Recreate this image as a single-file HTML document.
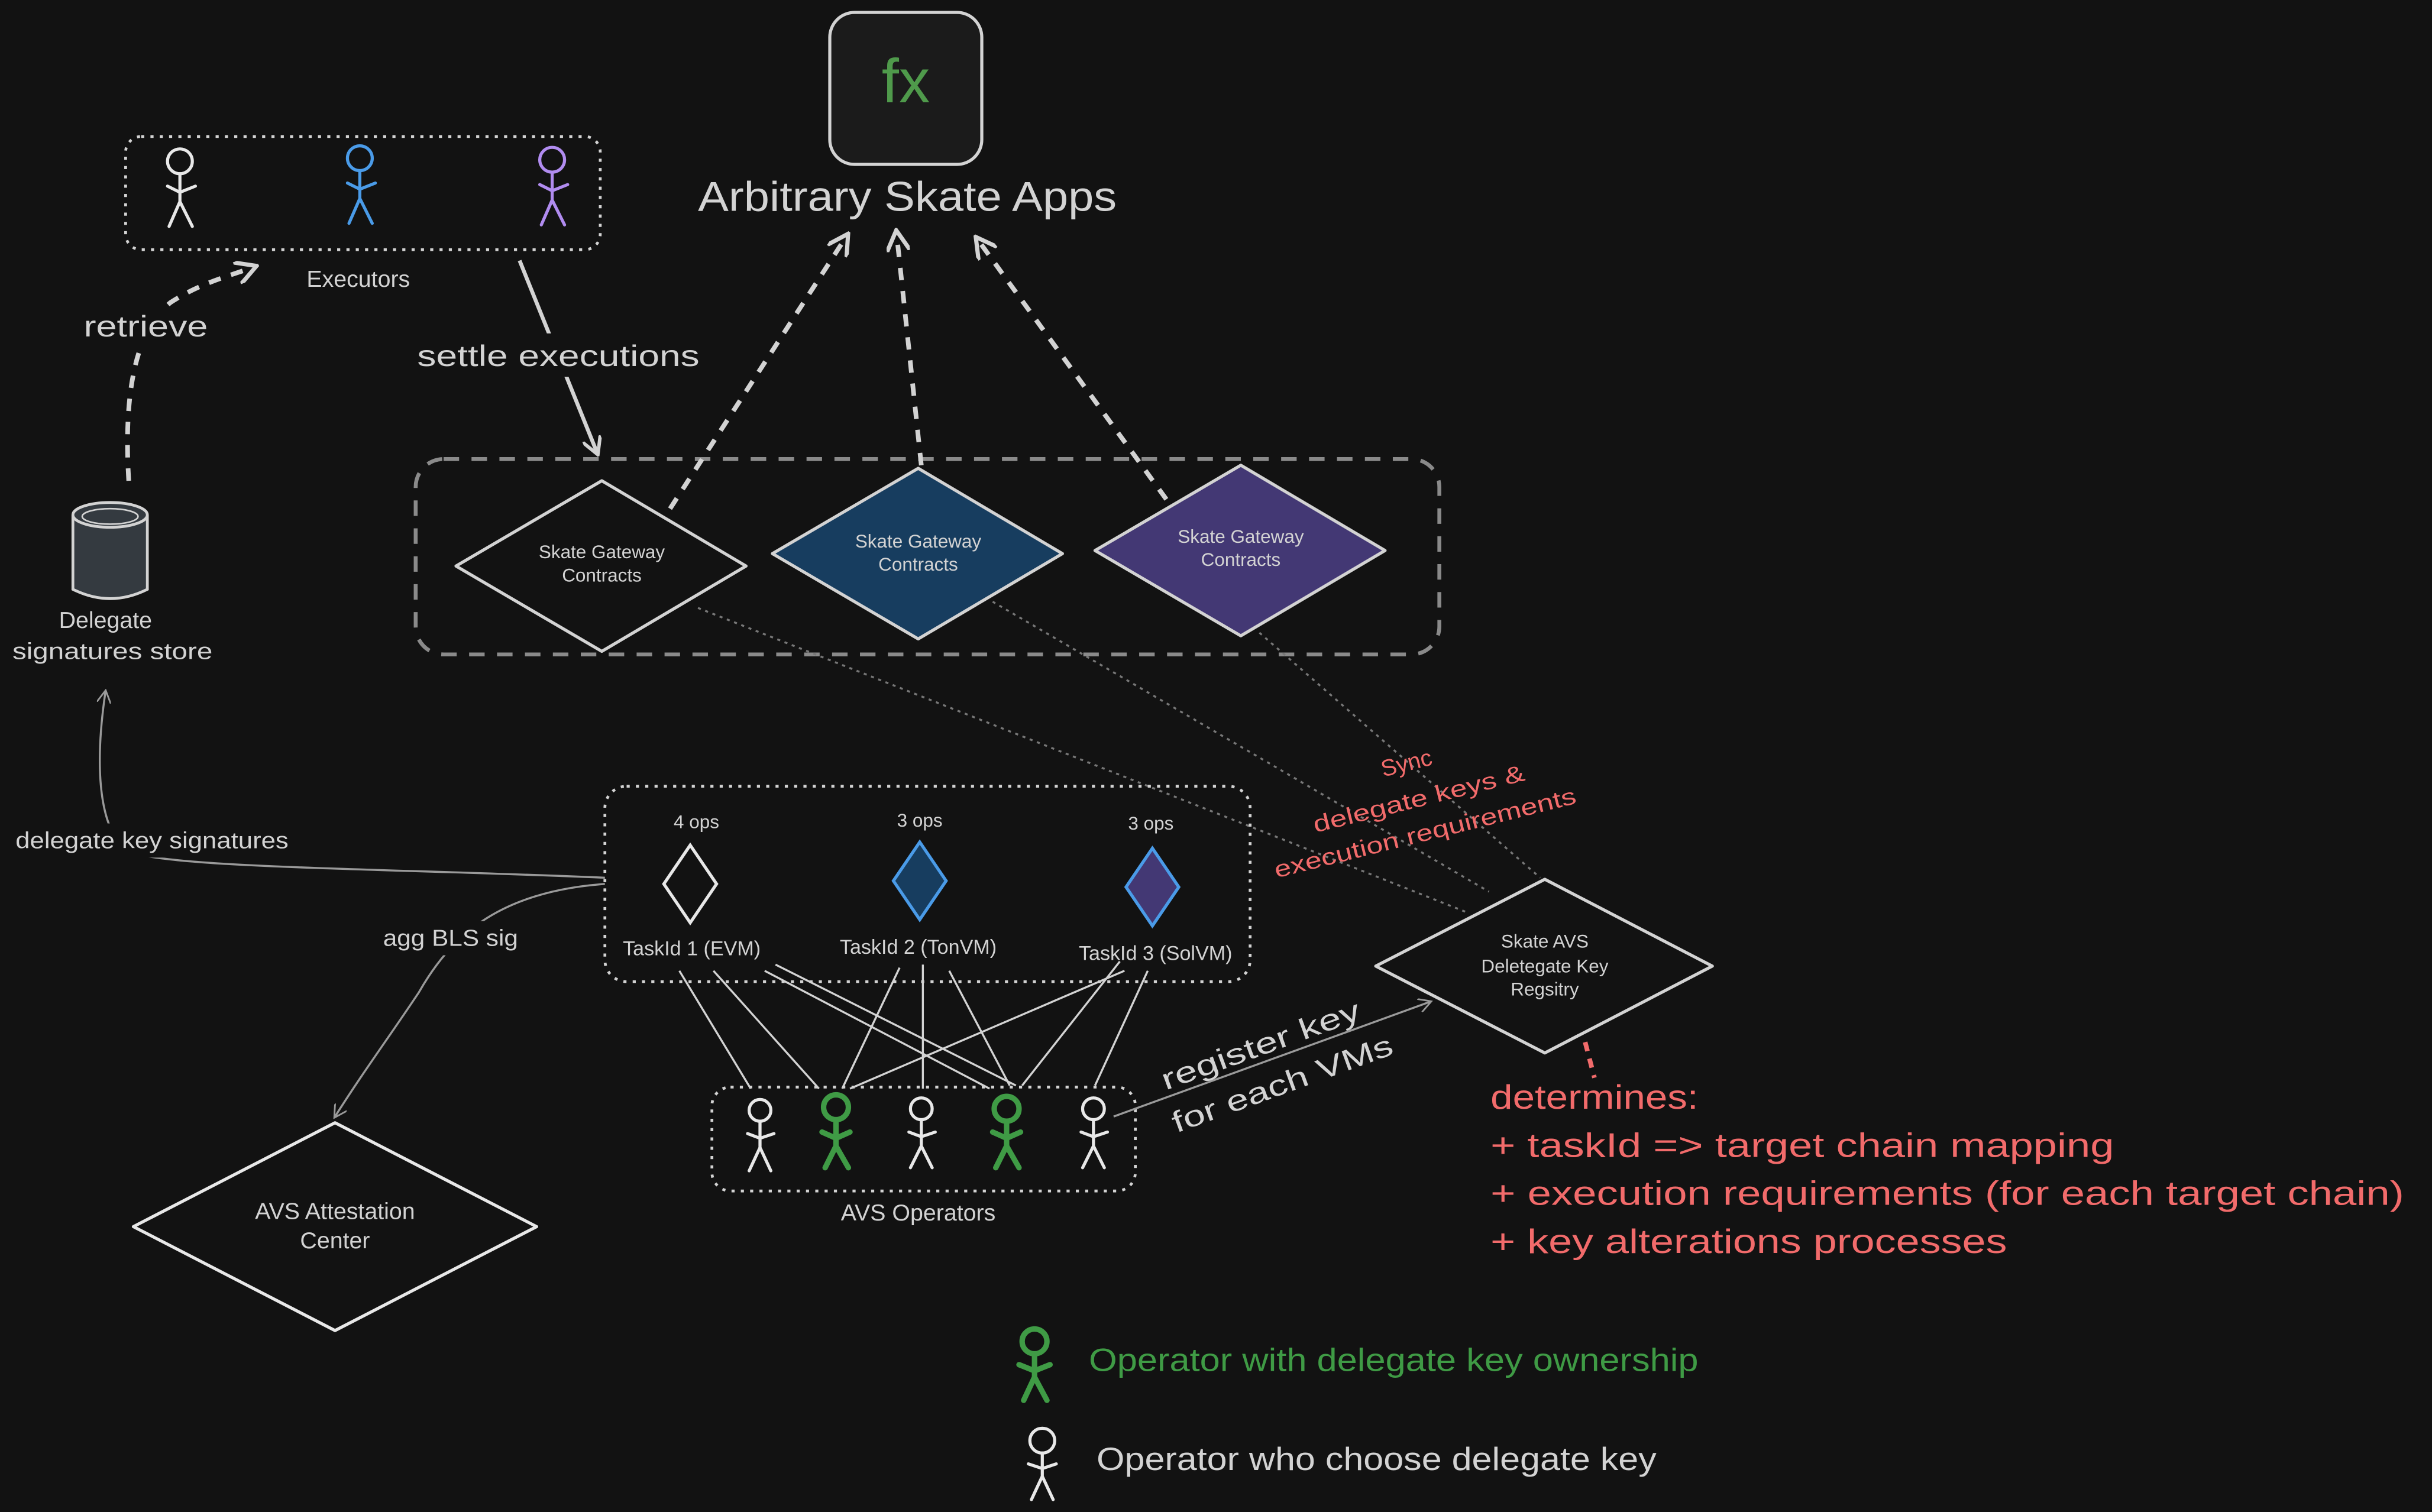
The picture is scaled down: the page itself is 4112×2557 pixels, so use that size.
<!DOCTYPE html>
<html><head><meta charset="utf-8"><style>
html,body{margin:0;padding:0;background:#121212;}
svg{display:block;}
text{font-family:"Liberation Sans",sans-serif;}
</style></head><body>
<svg width="4112" height="2557" viewBox="0 0 1568 975" xmlns="http://www.w3.org/2000/svg">
<defs>
<marker id="ah" viewBox="0 0 10 10" refX="8" refY="5" markerWidth="5" markerHeight="5" orient="auto"><path d="M0,0 L9,5 L0,10" fill="none" stroke="#d3d3d3" stroke-width="1.8"/></marker>
<marker id="ag" viewBox="0 0 10 10" refX="8" refY="5" markerWidth="7" markerHeight="7" orient="auto"><path d="M0,0 L9,5 L0,10" fill="none" stroke="#9a9a9a" stroke-width="1.2"/></marker>
</defs>
<rect width="1568" height="975" fill="#121212"/>

<!-- fx box -->
<rect x="535" y="8" width="98" height="98" rx="16" fill="#1b1b1b" stroke="#d3d3d3" stroke-width="2"/>
<text x="584" y="66" text-anchor="middle" font-size="40" fill="#4f9a4b">fx</text>
<text x="450" y="136" font-size="27" fill="#d3d3d3" textLength="270" lengthAdjust="spacingAndGlyphs">Arbitrary Skate Apps</text>

<!-- executors -->
<rect x="81" y="88" width="306" height="73" rx="10" fill="none" stroke="#d3d3d3" stroke-width="1.8" stroke-dasharray="2,4"/>
<g stroke-width="2" fill="none" stroke-linecap="round">
 <g stroke="#e8e8e8"><circle cx="116" cy="104" r="8"/><path d="M116 112 V130 M108 120 L116 124 L126 120 M116 130 L109 146 M116 130 L124 146"/></g>
 <g stroke="#4a9be8"><circle cx="232" cy="102" r="8"/><path d="M232 110 V128 M224 118 L232 122 L242 118 M232 128 L225 144 M232 128 L240 144"/></g>
 <g stroke="#b18cf0"><circle cx="356" cy="103" r="8"/><path d="M356 111 V129 M348 119 L356 123 L366 119 M356 129 L349 145 M356 129 L364 145"/></g>
</g>
<text x="231" y="185" text-anchor="middle" font-size="15" fill="#d3d3d3">Executors</text>

<!-- retrieve -->
<path d="M83 310 C80 260 85 215 110 195 C130 182 148 178 164 172" fill="none" stroke="#d3d3d3" stroke-width="3" stroke-dasharray="8,7" marker-end="url(#ah)"/>
<rect x="50" y="198" width="88" height="26" fill="#121212"/>
<text x="54" y="217" font-size="19" fill="#d3d3d3" textLength="80" lengthAdjust="spacingAndGlyphs">retrieve</text>

<!-- settle -->
<path d="M335 168 L385 292" fill="none" stroke="#d3d3d3" stroke-width="2.5" marker-end="url(#ah)"/>
<rect x="265" y="215" width="190" height="28" fill="#121212"/>
<text x="269" y="236" font-size="19" fill="#d3d3d3" textLength="182" lengthAdjust="spacingAndGlyphs">settle executions</text>

<!-- store cylinder -->
<path d="M47 332 V380 Q71 392 95 380 V332" fill="#343a40" stroke="#d3d3d3" stroke-width="1.8"/>
<ellipse cx="71" cy="332" rx="24" ry="8" fill="#343a40" stroke="#d3d3d3" stroke-width="1.8"/>
<ellipse cx="71" cy="333" rx="18" ry="5" fill="none" stroke="#d3d3d3" stroke-width="1"/>
<text x="68" y="405" text-anchor="middle" font-size="15" fill="#d3d3d3">Delegate</text>
<text x="8" y="425" font-size="15" fill="#d3d3d3" textLength="129" lengthAdjust="spacingAndGlyphs">signatures store</text>

<!-- gateway group -->
<rect x="268" y="296" width="660" height="126" rx="18" fill="none" stroke="#8a8a8a" stroke-width="2.5" stroke-dasharray="10,8"/>
<path d="M388 310 L481 365 L388 420 L294 365 Z" fill="#121212" stroke="#d3d3d3" stroke-width="2" stroke-linejoin="round"/>
<text x="388" y="360" text-anchor="middle" font-size="12" fill="#d3d3d3">Skate Gateway</text>
<text x="388" y="375" text-anchor="middle" font-size="12" fill="#d3d3d3">Contracts</text>
<path d="M592 302 L685 357 L592 412 L498 357 Z" fill="#173d5f" stroke="#d3d3d3" stroke-width="2" stroke-linejoin="round"/>
<text x="592" y="353" text-anchor="middle" font-size="12" fill="#d3d3d3">Skate Gateway</text>
<text x="592" y="368" text-anchor="middle" font-size="12" fill="#d3d3d3">Contracts</text>
<path d="M800 300 L893 355 L800 410 L706 355 Z" fill="#433874" stroke="#d3d3d3" stroke-width="2" stroke-linejoin="round"/>
<text x="800" y="350" text-anchor="middle" font-size="12" fill="#d3d3d3">Skate Gateway</text>
<text x="800" y="365" text-anchor="middle" font-size="12" fill="#d3d3d3">Contracts</text>

<!-- arrows to apps -->
<g fill="none" stroke="#d3d3d3" stroke-width="3" stroke-dasharray="8,7" marker-end="url(#ah)">
<path d="M432 328 L546 152"/>
<path d="M594 300 L578 150"/>
<path d="M752 322 L630 154"/>
</g>

<!-- sync dotted lines -->
<g fill="none" stroke="#777" stroke-width="1.3" stroke-dasharray="2,3">
<path d="M450 392 L945 588"/>
<path d="M640 388 L960 575"/>
<path d="M812 408 L993 566"/>
</g>
<g font-size="15" fill="#f26b6b" text-anchor="middle">
<text x="908" y="497" transform="rotate(-14 908 497)">Sync</text>
<text x="916" y="520" transform="rotate(-14 916 520)" textLength="140" lengthAdjust="spacingAndGlyphs">delegate keys &amp;</text>
<text x="920" y="542" transform="rotate(-14 920 542)" textLength="200" lengthAdjust="spacingAndGlyphs">execution requirements</text>
</g>

<!-- tasks group -->
<rect x="390" y="507" width="416" height="126" rx="14" fill="none" stroke="#d3d3d3" stroke-width="1.8" stroke-dasharray="2,4"/>
<text x="449" y="534" text-anchor="middle" font-size="12" fill="#d3d3d3">4 ops</text>
<text x="593" y="533" text-anchor="middle" font-size="12" fill="#d3d3d3">3 ops</text>
<text x="742" y="535" text-anchor="middle" font-size="12" fill="#d3d3d3">3 ops</text>
<path d="M445 545 L462 570 L445 595 L428 570 Z" fill="#121212" stroke="#e8e8e8" stroke-width="2"/>
<path d="M593 543 L610 568 L593 593 L576 568 Z" fill="#173d5f" stroke="#4a9be8" stroke-width="2"/>
<path d="M743 547 L760 572 L743 597 L726 572 Z" fill="#433874" stroke="#4a9be8" stroke-width="2"/>
<text x="446" y="616" text-anchor="middle" font-size="13" fill="#d3d3d3">TaskId 1 (EVM)</text>
<text x="592" y="615" text-anchor="middle" font-size="13" fill="#d3d3d3">TaskId 2 (TonVM)</text>
<text x="745" y="619" text-anchor="middle" font-size="13" fill="#d3d3d3">TaskId 3 (SolVM)</text>

<!-- operator lines -->
<g stroke="#d3d3d3" stroke-width="1.3">
<path d="M438 626 L484 702"/><path d="M460 626 L528 702"/><path d="M493 626 L638 702"/><path d="M500 622 L655 700"/>
<path d="M580 624 L543 702"/><path d="M595 622 L595 702"/><path d="M612 626 L651 700"/>
<path d="M725 626 L548 702"/><path d="M722 620 L659 700"/><path d="M740 626 L706 700"/>
</g>

<!-- operators -->
<rect x="459" y="701" width="273" height="67" rx="12" fill="none" stroke="#d3d3d3" stroke-width="1.8" stroke-dasharray="2,4"/>
<g fill="none" stroke-linecap="round" stroke-width="2">
 <g stroke="#e8e8e8"><circle cx="490" cy="716" r="7"/><path d="M490 723 V740 M482 731 L490 734 L499 731 M490 740 L483 755 M490 740 L497 755"/></g>
 <g stroke="#3f9b45" stroke-width="3.5"><circle cx="539" cy="714" r="8"/><path d="M539 722 V739 M530 730 L539 734 L548 730 M539 739 L532 753 M539 739 L547 753"/></g>
 <g stroke="#e8e8e8"><circle cx="594" cy="715" r="7"/><path d="M594 722 V739 M586 730 L594 733 L603 730 M594 739 L587 753 M594 739 L601 753"/></g>
 <g stroke="#3f9b45" stroke-width="3.5"><circle cx="649" cy="715" r="8"/><path d="M649 723 V739 M640 730 L649 734 L658 730 M649 739 L642 753 M649 739 L657 753"/></g>
 <g stroke="#e8e8e8"><circle cx="705" cy="715" r="7"/><path d="M705 722 V739 M697 730 L705 733 L714 730 M705 739 L698 753 M705 739 L712 753"/></g>
</g>
<text x="592" y="787" text-anchor="middle" font-size="15" fill="#d3d3d3">AVS Operators</text>

<!-- register key -->
<path d="M718 720 L922 646" fill="none" stroke="#9a9a9a" stroke-width="1.3" marker-end="url(#ag)"/>
<g font-size="19" fill="#d3d3d3" text-anchor="middle">
<text x="815" y="680" transform="rotate(-20 815 680)" textLength="135" lengthAdjust="spacingAndGlyphs">register key</text>
<text x="829" y="705" transform="rotate(-20 829 705)" textLength="150" lengthAdjust="spacingAndGlyphs">for each VMs</text>
</g>

<!-- registry -->
<path d="M996 567 L1104 623 L996 679 L887 623 Z" fill="#121212" stroke="#d3d3d3" stroke-width="2" stroke-linejoin="round"/>
<text x="996" y="611" text-anchor="middle" font-size="12" fill="#d3d3d3">Skate AVS</text>
<text x="996" y="627" text-anchor="middle" font-size="12" fill="#d3d3d3">Deletegate Key</text>
<text x="996" y="642" text-anchor="middle" font-size="12" fill="#d3d3d3">Regsitry</text>
<path d="M1022 672 L1028 695" stroke="#f26b6b" stroke-width="3" stroke-dasharray="6,5"/>
<g font-size="22" fill="#f26b6b" lengthAdjust="spacingAndGlyphs">
<text x="961" y="715" textLength="134" lengthAdjust="spacingAndGlyphs">determines:</text>
<text x="961" y="746" textLength="402" lengthAdjust="spacingAndGlyphs">+ taskId =&gt; target chain mapping</text>
<text x="961" y="777" textLength="589" lengthAdjust="spacingAndGlyphs">+ execution requirements (for each target chain)</text>
<text x="961" y="808" textLength="333" lengthAdjust="spacingAndGlyphs">+ key alterations processes</text>
</g>

<!-- left arrows -->
<path d="M390 566 C250 560 120 560 85 550 C65 540 60 500 68 446" fill="none" stroke="#9a9a9a" stroke-width="1.3" marker-end="url(#ag)"/>
<rect x="8" y="531" width="180" height="22" fill="#121212"/>
<text x="10" y="547" font-size="15" fill="#d3d3d3" textLength="176" lengthAdjust="spacingAndGlyphs">delegate key signatures</text>
<path d="M390 570 C320 575 290 605 270 640 C250 670 235 690 216 720" fill="none" stroke="#9a9a9a" stroke-width="1.3" marker-end="url(#ag)"/>
<rect x="243" y="594" width="95" height="22" fill="#121212"/>
<text x="247" y="610" font-size="15" fill="#d3d3d3" textLength="87" lengthAdjust="spacingAndGlyphs">agg BLS sig</text>

<!-- attestation -->
<path d="M216 724 L346 791 L216 858 L86 791 Z" fill="#121212" stroke="#e8e8e8" stroke-width="2" stroke-linejoin="round"/>
<text x="216" y="786" text-anchor="middle" font-size="15" fill="#d3d3d3">AVS Attestation</text>
<text x="216" y="805" text-anchor="middle" font-size="15" fill="#d3d3d3">Center</text>

<!-- legend -->
<g fill="none" stroke-linecap="round">
 <g stroke="#3f9b45" stroke-width="3.5"><circle cx="667" cy="865" r="8"/><path d="M667 873 V888 M657 880 L667 884 L677 880 M667 888 L660 903 M667 888 L675 903"/></g>
 <g stroke="#e8e8e8" stroke-width="2"><circle cx="672" cy="929" r="8"/><path d="M672 937 V952 M663 944 L672 947 L681 944 M672 952 L665 967 M672 952 L679 967"/></g>
</g>
<text x="702" y="884" font-size="21" fill="#3f9b45" textLength="393" lengthAdjust="spacingAndGlyphs">Operator with delegate key ownership</text>
<text x="707" y="948" font-size="21" fill="#d3d3d3" textLength="361" lengthAdjust="spacingAndGlyphs">Operator who choose delegate key</text>
</svg>
</body></html>
